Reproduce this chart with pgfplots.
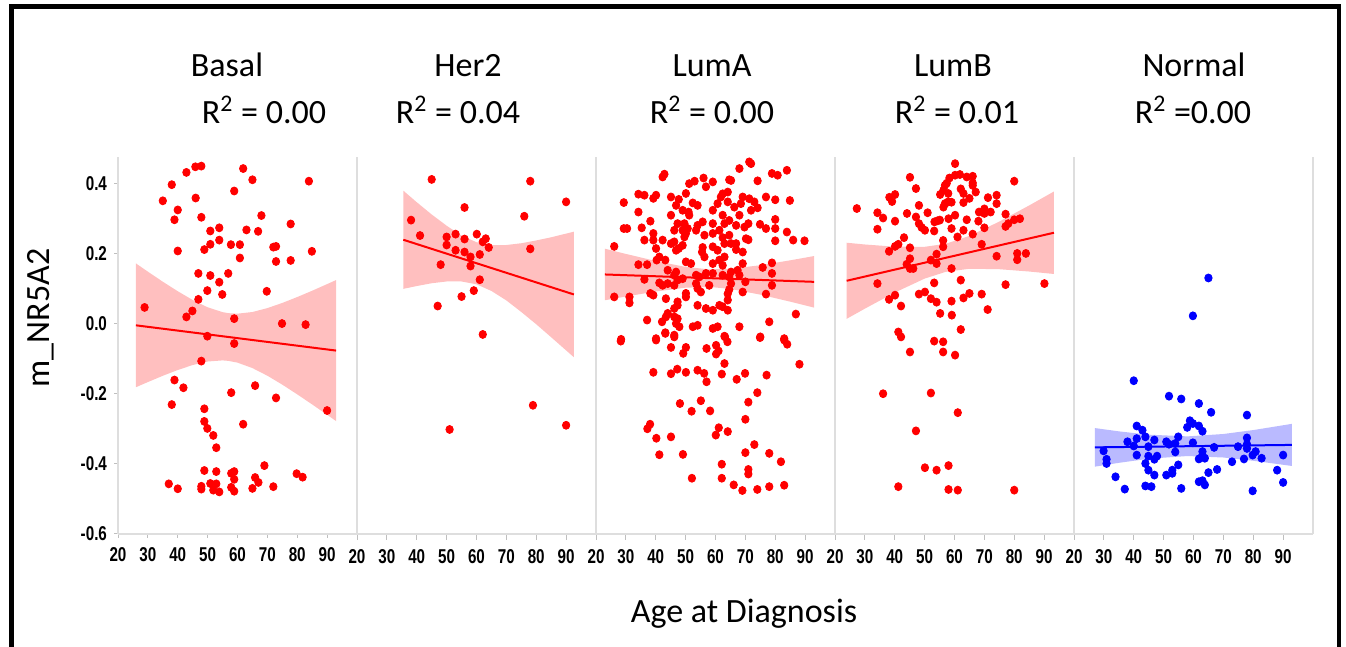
\documentclass[border=0pt]{standalone}
\usepackage{pgfplots}
\pgfplotsset{compat=1.18}
\usepackage{fontspec}
\setmainfont{Carlito}
\newfontfamily\tickfont{Liberation Sans}[FakeStretch=0.76]

\pgfplotsset{
 panel/.style={
  scale only axis, width=119.5pt, height=188.5pt,
  xmin=20, xmax=100, ymin=-0.6, ymax=0.475,
  axis x line*=bottom, axis y line*=left,
  axis line style={draw=black!13, line width=0.6pt},
  xtick={20,30,40,50,60,70,80,90},
  xticklabels={20,30,40,50,60,70,80,90},
  ytick=\empty,
  tick align=outside, major tick length=3pt,
  tick style={draw=black!25, line width=0.5pt},
  xticklabel style={font=\tickfont\bfseries\fontsize{10}{12}\selectfont, yshift=-1pt},
  yticklabel style={font=\tickfont\bfseries\fontsize{10}{12}\selectfont},
  clip=false,
 },
 pts/.style={only marks, mark=*, mark size=1.85pt, color=red, mark options={draw=none, fill=red, yscale=1.08}},
 band/.style={fill=red!25, draw=none},
 fit/.style={red, line width=1pt},
}

\begin{document}
\begin{tikzpicture}
\useasboundingbox (0,0) rectangle (673pt,323.5pt);
\draw[line width=2.3pt, line join=miter] (5.8pt,0) -- (5.8pt,320.2pt) -- (669.5pt,320.2pt) -- (669.5pt,0);

% ---------------- Basal
\begin{axis}[panel, at={(59pt,56.5pt)},
  ytick={-0.6,-0.4,-0.2,0,0.2,0.4},
  yticklabels={-0.6,-0.4,-0.2,0.0,0.2,0.4},
  major tick length=2pt]
\addplot[band] coordinates {(26,0.1715)(30,0.148)(35,0.1193)(40,0.0922)(45,0.0672)(50,0.0464)(55,0.0326)(57,0.0296)(60,0.0282)(65,0.0329)(70,0.0441)(75,0.0588)(80,0.0756)(85,0.0936)(90,0.1125)(93,0.1240)
(93,-0.2780)(90,-0.2601)(85,-0.2306)(80,-0.2018)(75,-0.1742)(70,-0.1487)(65,-0.1269)(60,-0.1114)(57,-0.1064)(55,-0.1050)(50,-0.1082)(45,-0.1182)(40,-0.1324)(35,-0.1489)(30,-0.1668)(26,-0.1815)} -- cycle;
\addplot[fit] coordinates {(26,-0.005)(93,-0.077)};
\addplot[pts] coordinates {(35.0,0.350)(38.0,0.396)(40.0,0.324)(38.9,0.296)(40.0,0.207)(42.9,0.431)(45.9,0.447)(47.9,0.449)(46.0,0.358)(47.9,0.303)(50.9,0.264)(53.9,0.273)(50.9,0.226)(53.9,0.238)(48.9,0.211)(57.8,0.225)(60.8,0.225)(60.8,0.187)(58.9,0.378)(61.9,0.442)(65.0,0.410)(68.0,0.308)(63.0,0.267)(66.9,0.263)(72.0,0.218)(72.9,0.220)(72.9,0.177)(77.8,0.180)(77.8,0.284)(83.9,0.406)(84.9,0.206)(46.9,0.143)(50.9,0.137)(53.9,0.118)(56.9,0.143)(49.9,0.094)(54.9,0.083)(69.8,0.092)(46.9,0.069)(28.9,0.046)(44.9,0.036)(42.9,0.019)(58.9,0.014)(74.9,0.000)(82.8,-0.003)(49.9,-0.036)(58.9,-0.057)(47.9,-0.107)(38.9,-0.161)(41.9,-0.183)(38.0,-0.231)(57.9,-0.197)(65.9,-0.177)(72.9,-0.212)(90.0,-0.248)(48.9,-0.243)(48.9,-0.279)(49.9,-0.299)(51.9,-0.319)(61.9,-0.287)(52.9,-0.354)(48.9,-0.419)(52.9,-0.422)(57.9,-0.427)(58.9,-0.422)(58.9,-0.444)(69.0,-0.405)(79.8,-0.428)(81.8,-0.438)(65.9,-0.439)(67.0,-0.453)(37.0,-0.457)(40.0,-0.471)(47.9,-0.464)(47.9,-0.472)(50.9,-0.456)(51.9,-0.475)(52.9,-0.457)(53.9,-0.480)(57.9,-0.467)(58.9,-0.478)(65.0,-0.470)(72.0,-0.465)};
\end{axis}

% ---------------- Her2
\begin{axis}[panel, at={(178.5pt,56.5pt)}]
\addplot[band] coordinates {(35.5,0.379)(40,0.346)(45,0.311)(50,0.279)(55,0.251)(60,0.232)(65,0.224)(70,0.224)(75,0.229)(80,0.237)(85,0.246)(92.6,0.262)
(92.6,-0.096)(85,-0.039)(80,-0.002)(75,0.033)(70,0.066)(65,0.093)(60,0.112)(55,0.120)(50,0.120)(45,0.115)(40,0.107)(35.5,0.099)} -- cycle;
\addplot[fit] coordinates {(35.5,0.239)(92.6,0.083)};
\addplot[pts] coordinates {(45.0,0.411)(78.0,0.406)(90.0,0.347)(56.0,0.331)(38.1,0.295)(76.0,0.306)(41.1,0.251)(50.0,0.247)(50.0,0.224)(53.0,0.255)(56.0,0.241)(53.0,0.209)(56.0,0.204)(60.1,0.255)(62.1,0.233)(63.1,0.242)(64.1,0.217)(61.1,0.197)(58.0,0.190)(58.0,0.164)(78.0,0.213)(48.0,0.168)(61.1,0.125)(59.1,0.094)(55.0,0.077)(47.0,0.050)(62.1,-0.031)(78.9,-0.233)(90.0,-0.290)(51.0,-0.302)};
\end{axis}

% ---------------- LumA
\begin{axis}[panel, at={(298pt,56.5pt)}]
\addplot[band] coordinates {(23,0.2135)(30,0.1986)(40,0.1784)(50,0.1615)(58,0.1545)(65,0.1560)(75,0.1663)(85,0.1803)(93,0.1925)
(93,0.0455)(85,0.0625)(75,0.0825)(65,0.0988)(58,0.1045)(50,0.1023)(40,0.0914)(30,0.0772)(23,0.0665)} -- cycle;
\addplot[fit] coordinates {(23,0.140)(93,0.119)};
\addplot[pts] coordinates {(42.9,0.426)(42.3,0.418)(53.0,0.406)(51.2,0.399)(56.0,0.415)(59.1,0.404)(56.8,0.390)
(34.2,0.369)(36.2,0.366)(40.1,0.366)(39.2,0.357)(45.1,0.361)(50.1,0.371)(47.7,0.354)
(29.3,0.345)(34.2,0.318)(46.8,0.337)(52.4,0.344)(54.0,0.337)(49.0,0.323)(51.0,0.318)(51.2,0.309)(45.1,0.309)(59.1,0.323)
(38.2,0.292)(47.3,0.285)(49.6,0.285)(50.7,0.271)(49.0,0.266)(46.2,0.266)(54.0,0.280)(55.7,0.290)(59.1,0.285)(53.5,0.266)
(29.3,0.271)(30.4,0.271)(35.3,0.273)(39.2,0.257)(49.6,0.247)(50.1,0.257)(56.3,0.252)(59.1,0.257)
(36.2,0.238)(39.2,0.238)(42.3,0.238)(46.2,0.233)(45.1,0.228)(47.7,0.214)(49.0,0.223)(46.8,0.209)(55.7,0.217)(59.1,0.219)
(26.1,0.220)(40.1,0.214)(41.2,0.190)(40.3,0.181)(43.2,0.181)(56.3,0.190)(55.5,0.204)
(34.2,0.168)(37.1,0.168)(50.1,0.176)(51.8,0.171)(59.1,0.171)
(44.0,0.152)(46.8,0.147)(46.2,0.138)(47.3,0.124)(49.0,0.128)(53.5,0.138)(56.8,0.143)(54.6,0.133)(59.1,0.143)
(36.2,0.126)(41.2,0.116)(42.3,0.109)(44.0,0.114)(46.2,0.109)(53.5,0.114)(54.0,0.100)(55.1,0.090)(57.9,0.109)
(26.1,0.076)(31.2,0.076)(31.2,0.059)(38.2,0.086)(39.2,0.081)(43.4,0.071)(47.3,0.062)(50.1,0.086)(50.1,0.076)
(46.2,0.043)(47.3,0.052)(54.0,0.052)(56.8,0.043)(59.1,0.038)
(44.0,0.029)(43.4,0.019)(47.3,0.014)(46.2,0.019)(37.1,0.010)(42.1,0.005)(46.8,0.000)(47.9,-0.009)
(52.4,-0.009)(54.0,-0.005)(59.1,-0.014)(43.2,-0.026)(46.2,-0.033)(28.4,-0.045)(40.1,-0.043)
(71.3,0.461)(71.9,0.456)(68.0,0.442)(78.9,0.428)(80.8,0.423)(83.9,0.437)(64.6,0.410)(65.2,0.408)(74.1,0.407)
(62.4,0.370)(64.1,0.375)(61.8,0.361)(69.1,0.361)(71.3,0.356)(73.0,0.347)(76.9,0.361)(80.0,0.353)(84.9,0.351)
(60.7,0.342)(64.1,0.347)(66.3,0.332)(68.5,0.342)(71.9,0.323)(74.1,0.330)
(62.4,0.309)(68.0,0.309)(64.6,0.294)(63.0,0.285)(66.9,0.280)(69.7,0.275)(71.0,0.285)
(74.9,0.283)(76.9,0.271)(80.0,0.297)(80.0,0.271)(61.3,0.266)(62.4,0.245)(64.6,0.252)
(70.2,0.242)(71.0,0.239)(83.9,0.261)(86.0,0.238)(89.8,0.236)(80.0,0.236)
(63.0,0.228)(65.2,0.228)(66.9,0.228)(66.9,0.211)(69.1,0.204)(60.7,0.209)(63.0,0.190)(61.3,0.181)
(69.1,0.171)(62.4,0.166)(75.8,0.160)(78.9,0.173)(65.2,0.147)(67.4,0.152)(78.9,0.143)
(62.4,0.138)(64.6,0.133)(68.0,0.138)(70.0,0.119)(65.2,0.114)(78.9,0.109)
(64.6,0.097)(69.1,0.090)(64.1,0.085)(76.9,0.084)(64.1,0.067)(61.3,0.052)(62.4,0.048)(64.1,0.038)
(86.9,0.027)(78.0,0.005)(60.7,-0.009)(68.0,-0.009)(63.0,-0.036)(75.0,-0.038)(83.0,-0.043)
(28.3,-0.050)(40.1,-0.047)(43.2,-0.028)(46.2,-0.038)(45.1,-0.068)(50.1,-0.068)(49.2,-0.085)(57.0,-0.071)
(60.2,-0.062)(61.0,-0.078)(60.2,-0.087)(63.2,-0.038)(64.0,-0.052)(63.0,-0.114)(74.9,-0.040)(83.0,-0.047)(84.0,-0.059)(88.1,-0.116)
(39.2,-0.139)(45.1,-0.143)(47.2,-0.130)(50.1,-0.139)(54.0,-0.133)(56.2,-0.142)(57.0,-0.166)(62.1,-0.144)
(67.1,-0.159)(69.9,-0.142)(77.1,-0.147)(74.0,-0.197)(71.0,-0.224)
(48.1,-0.228)(55.1,-0.220)(52.0,-0.250)(58.2,-0.249)(70.0,-0.273)
(38.1,-0.287)(37.2,-0.300)(61.1,-0.297)(60.1,-0.318)(64.1,-0.308)(40.2,-0.327)(45.1,-0.323)(73.0,-0.345)
(41.2,-0.374)(49.1,-0.373)(70.0,-0.368)(78.0,-0.370)(81.9,-0.394)(62.1,-0.401)(71.0,-0.416)(71.0,-0.429)
(52.1,-0.441)(62.1,-0.441)(66.1,-0.460)(69.0,-0.476)(74.0,-0.473)(78.0,-0.465)(83.0,-0.461)};
\end{axis}

% ---------------- LumB
\begin{axis}[panel, at={(417.5pt,56.5pt)}]
\addplot[band] coordinates {(23.9,0.2305)(30,0.2255)(40,0.2192)(50,0.2188)(57,0.2273)(65,0.2499)(75,0.2908)(85,0.3368)(93.3,0.3766)
(93.3,0.1414)(85,0.1484)(75,0.1550)(65,0.1563)(57,0.1473)(50,0.1282)(40,0.0884)(30,0.0425)(23.9,0.0135)} -- cycle;
\addplot[fit] coordinates {(23.9,0.122)(93.3,0.259)};
\addplot[pts] coordinates {(60.2,0.456)(60.2,0.423)(58.3,0.415)(61.8,0.425)(64.1,0.418)(66.1,0.420)(57.4,0.400)(56.8,0.394)(66.1,0.401)(66.1,0.394)(62.1,0.384)(67.1,0.375)(45.1,0.417)(47.1,0.385)(80.0,0.406)(56.3,0.380)(55.2,0.368)(57.9,0.371)(63.0,0.371)(40.1,0.368)(38.2,0.360)(39.1,0.348)(57.9,0.347)(59.0,0.346)(56.8,0.342)(63.0,0.345)(65.0,0.357)(71.2,0.359)(74.1,0.366)(74.1,0.342)(27.3,0.328)(48.1,0.337)(56.3,0.332)(34.2,0.316)(36.1,0.301)(44.1,0.314)(47.1,0.304)(51.0,0.316)(60.2,0.309)(58.0,0.299)(64.1,0.296)(68.2,0.318)(70.0,0.327)(70.0,0.314)(72.1,0.318)(68.0,0.292)(77.1,0.312)(77.1,0.277)(78.0,0.285)(80.0,0.296)(81.9,0.299)(40.1,0.292)(48.1,0.285)(49.0,0.274)(50.1,0.266)(53.3,0.290)(54.3,0.293)(55.1,0.295)(53.2,0.264)(34.2,0.269)(59.0,0.271)(63.0,0.266)(66.1,0.255)(70.0,0.273)(43.1,0.245)(61.0,0.247)(56.2,0.237)(56.2,0.219)(69.1,0.226)(41.2,0.226)(40.1,0.220)(45.1,0.216)(38.1,0.206)(74.1,0.192)(81.0,0.200)(81.0,0.182)(83.9,0.200)(54.0,0.198)(54.0,0.171)(52.1,0.181)(45.1,0.185)(44.0,0.169)(45.1,0.157)(46.2,0.157)(59.0,0.157)(34.2,0.114)(53.2,0.116)(62.1,0.124)(77.1,0.111)(90.1,0.114)(40.1,0.081)(38.1,0.069)(42.1,0.050)(48.1,0.084)(50.1,0.090)(52.1,0.071)(54.0,0.061)(59.0,0.064)(63.0,0.073)(65.0,0.086)(69.1,0.084)(71.1,0.040)(55.2,0.029)(59.1,0.024)(62.1,-0.017)(41.2,-0.024)(42.1,-0.038)(53.2,-0.050)(56.2,-0.052)(45.1,-0.081)(56.2,-0.081)(60.2,-0.090)(36.1,-0.200)(52.1,-0.198)(61.1,-0.254)(47.1,-0.306)(50.1,-0.411)(54.0,-0.418)(58.0,-0.405)(41.2,-0.465)(58.0,-0.473)(61.1,-0.475)(80.0,-0.475)};
\end{axis}

% ---------------- Normal
\begin{axis}[panel, at={(537pt,56.5pt)}]
\addplot[fill=blue!27, draw=none] coordinates {(27,-0.298)(35,-0.3073)(45,-0.3168)(58,-0.3217)(70,-0.3149)(80,-0.3037)(92.9,-0.286)
(92.9,-0.406)(80,-0.3911)(70,-0.3819)(58,-0.3777)(45,-0.3854)(35,-0.3971)(27,-0.408)} -- cycle;
\addplot[blue, line width=1pt] coordinates {(27,-0.353)(92.9,-0.346)};
\addplot[pts, color=blue, mark options={draw=none, fill=blue, yscale=1.08}] coordinates {(65.0,0.130)(59.8,0.022)(40.0,-0.163)(51.8,-0.207)(55.9,-0.215)(61.8,-0.228)(65.9,-0.253)(77.9,-0.261)(58.8,-0.277)(59.8,-0.285)(57.9,-0.296)(61.8,-0.292)(63.0,-0.307)(41.0,-0.292)(42.9,-0.304)(43.9,-0.323)(41.0,-0.328)(37.9,-0.337)(40.0,-0.349)(44.9,-0.351)(46.9,-0.332)(50.9,-0.337)(51.8,-0.344)(53.9,-0.342)(54.9,-0.323)(59.8,-0.340)(66.9,-0.353)(74.9,-0.351)(77.9,-0.326)(77.9,-0.344)(77.9,-0.356)(29.9,-0.363)(41.0,-0.375)(44.9,-0.378)(47.8,-0.378)(46.9,-0.387)(53.9,-0.366)(63.0,-0.365)(63.0,-0.375)(61.8,-0.386)(63.8,-0.384)(79.8,-0.375)(80.8,-0.365)(82.8,-0.384)(90.0,-0.375)(76.9,-0.386)(30.9,-0.387)(30.9,-0.399)(43.9,-0.399)(44.9,-0.418)(46.9,-0.432)(54.9,-0.403)(52.9,-0.418)(52.9,-0.427)(50.9,-0.432)(72.9,-0.394)(67.9,-0.416)(65.0,-0.425)(33.9,-0.437)(37.0,-0.472)(43.9,-0.463)(45.9,-0.465)(55.9,-0.470)(61.8,-0.451)(63.0,-0.448)(63.8,-0.460)(79.8,-0.477)(88.0,-0.418)(90.0,-0.453)};
\draw[black!13, line width=0.6pt] (rel axis cs:1,0) -- (rel axis cs:1,1);
\end{axis}

% titles
\begin{scope}[every node/.style={anchor=base, font=\fontsize{17}{20}\selectfont, inner sep=0pt}]
\node at (113.5pt,285pt) {Basal};
\node at (132pt,261.5pt) {R\textsuperscript{2} = 0.00};
\node at (234pt,285pt) {Her2};
\node at (229pt,261.5pt) {R\textsuperscript{2} = 0.04};
\node at (356pt,285pt) {LumA};
\node at (356pt,261.5pt) {R\textsuperscript{2} = 0.00};
\node at (476.5pt,285pt) {LumB};
\node at (478.5pt,261.5pt) {R\textsuperscript{2} = 0.01};
\node at (597pt,285pt) {Normal};
\node at (596.5pt,261.5pt) {R\textsuperscript{2} =0.00};
\node at (372pt,12pt) {Age at Diagnosis};
\end{scope}
\node[rotate=90, font=\fontsize{17}{20}\selectfont, inner sep=0pt] at (20.5pt,164.5pt) {m\_NR5A2};
\end{tikzpicture}
\end{document}
